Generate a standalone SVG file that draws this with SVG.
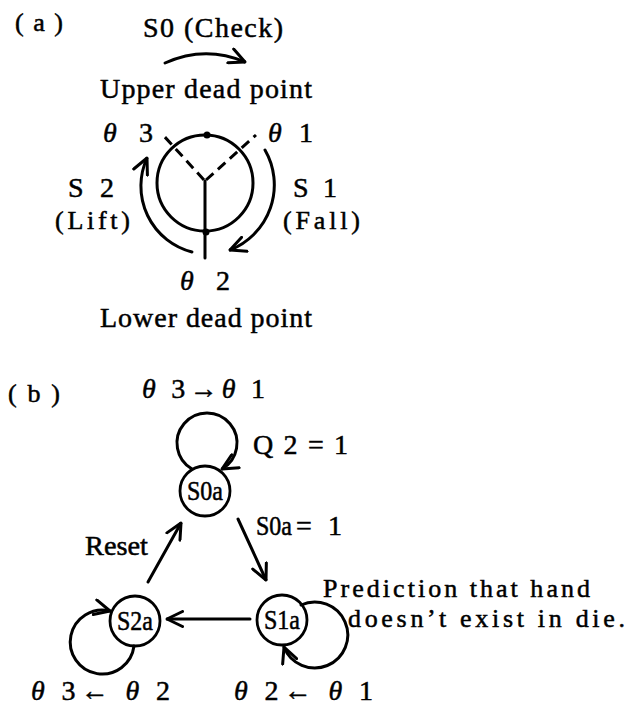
<svg xmlns="http://www.w3.org/2000/svg" width="643" height="713" viewBox="0 0 643 713">
<style>
  text { font-family: "Liberation Serif", "DejaVu Serif", serif; fill: #000; stroke: #000; stroke-width: 0.5px; }
  .t { font-size: 28px; }
  .s { font-size: 26px; }
  .n { font-size: 27px; }
  .g { font-style: italic; }
  .ln { stroke: #000; stroke-width: 3; fill: none; stroke-linecap: round; }
  .dash { stroke: #000; stroke-width: 3; fill: none; stroke-dasharray: 10 6; }
  .node { stroke: #000; stroke-width: 2.8; fill: #fff; }
</style>
<defs>
  <marker id="ah" viewBox="0 0 18 18" refX="17" refY="9" markerWidth="18" markerHeight="18" markerUnits="userSpaceOnUse" orient="auto">
    <path d="M1.5,1.5 L17,9 L1.5,16.5" fill="none" stroke="#000" stroke-width="3" stroke-linecap="round" stroke-linejoin="round"/>
  </marker>
</defs>
<rect width="643" height="713" fill="#fff"/>

<!-- (a) -->
<g id="crank">
  <circle cx="205" cy="183" r="48" class="ln"/>
  <line x1="204" y1="180" x2="163" y2="135" class="dash"/>
  <line x1="206" y1="180" x2="256" y2="135" class="dash"/>
  <line x1="205" y1="181" x2="205" y2="258" class="ln"/>
  <circle cx="207" cy="135" r="3.5" fill="#000"/>
  <circle cx="206" cy="232" r="3.5" fill="#000"/>
</g>
<g id="labels-a">
  <text class="s" x="15" y="31" textLength="48">(a)</text>
  <text class="t" x="143" y="37" textLength="140">S0 (Check)</text>
  <text class="t" x="100" y="98" textLength="212">Upper dead point</text>
  <text class="t" x="103" y="142" textLength="50"><tspan class="g">θ</tspan> 3</text>
  <text class="t" x="268" y="142" textLength="45"><tspan class="g">θ</tspan> 1</text>
  <text class="t" x="68" y="197" textLength="46">S2</text>
  <text class="s" x="55" y="229" textLength="75">(Lift)</text>
  <text class="t" x="293" y="197" textLength="44">S1</text>
  <text class="s" x="283" y="229" textLength="77">(Fall)</text>
  <text class="t" x="180" y="290" textLength="50"><tspan class="g">θ</tspan> 2</text>
  <text class="t" x="100" y="327" textLength="212">Lower dead point</text>
</g>

<!-- (b) nodes -->
<g id="S0a">
  <circle cx="205" cy="491" r="25" class="node"/>
  <text class="n" x="187" y="500" textLength="36" lengthAdjust="spacingAndGlyphs">S0a</text>
</g>
<g id="S1a">
  <circle cx="282" cy="620" r="25" class="node"/>
  <text class="n" x="264" y="629" textLength="36" lengthAdjust="spacingAndGlyphs">S1a</text>
</g>
<g id="S2a">
  <circle cx="135" cy="621" r="25" class="node"/>
  <text class="n" x="117" y="630" textLength="36" lengthAdjust="spacingAndGlyphs">S2a</text>
</g>

<g id="connectors">
  <path d="M165,63 Q205,45 245,62" class="ln" marker-end="url(#ah)"/>
  <path d="M265,150 A70,70 0 0 1 230,250" class="ln" marker-end="url(#ah)"/>
  <path d="M192,252 A68,68 0 0 1 147,158" class="ln" marker-end="url(#ah)"/>
  <path d="M192,469 A30,30 0 1 1 222,469" class="ln" marker-end="url(#ah)"/>
  <path d="M134,646 A32,32 0 1 1 110,611" class="ln" marker-end="url(#ah)"/>
  <path d="M301,605 A33,33 0 1 1 284,647" class="ln" marker-end="url(#ah)"/>
  <line x1="238" y1="519" x2="266" y2="580" class="ln" marker-end="url(#ah)"/>
  <line x1="250" y1="619" x2="167" y2="619" class="ln" marker-end="url(#ah)"/>
  <line x1="148" y1="582" x2="181" y2="523" class="ln" marker-end="url(#ah)"/>
</g>

<g id="labels-b">
  <text class="s" x="8" y="402" textLength="52">(b)</text>
  <text class="t" x="142" y="398" textLength="123"><tspan class="g">θ</tspan> 3→<tspan class="g">θ</tspan> 1</text>
  <text class="t" x="253" y="454" font-size="30" textLength="95">Q2=1</text>
  <text class="n" x="256" y="535" textLength="36" lengthAdjust="spacingAndGlyphs">S0a</text>
  <text class="t" x="296" y="535" font-size="30">=</text>
  <text class="t" x="328" y="535">1</text>
  <text class="n" x="85" y="555" textLength="63" lengthAdjust="spacingAndGlyphs">Reset</text>
  <text class="s" x="323" y="597" textLength="267">Prediction that hand</text>
  <text class="s" x="348" y="627" textLength="277">doesn’t exist in die.</text>
  <text class="t" x="31" y="700" textLength="139"><tspan class="g">θ</tspan> 3← <tspan class="g">θ</tspan> 2</text>
  <text class="t" x="234" y="700" textLength="139"><tspan class="g">θ</tspan> 2← <tspan class="g">θ</tspan> 1</text>
</g>
</svg>
